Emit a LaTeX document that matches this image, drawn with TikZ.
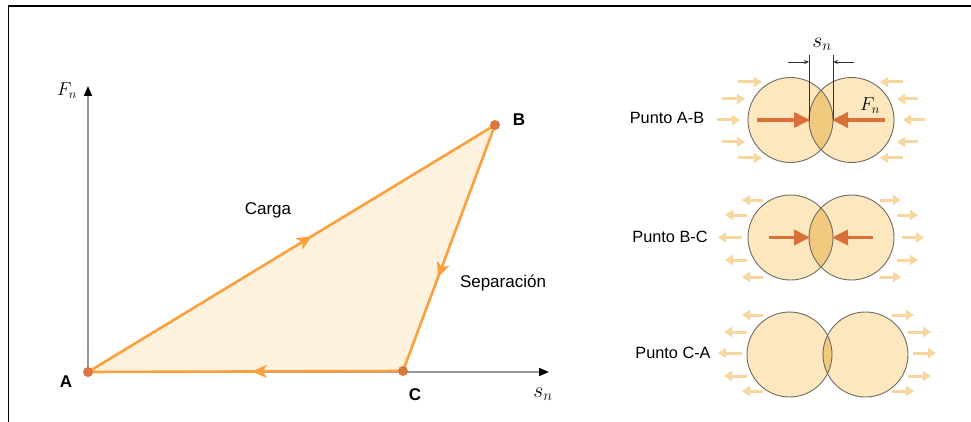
\documentclass[tikz,border=0pt]{standalone}
\usepackage{fontspec}
\setmainfont{Liberation Sans}
\usetikzlibrary{arrows.meta,decorations.markings}
\definecolor{trifill}{HTML}{FEF1DE}
\definecolor{edgec}{HTML}{FBA03C}
\definecolor{dotc}{HTML}{D9773F}
\definecolor{circfill}{HTML}{FDE7BE}
\definecolor{lensfill}{HTML}{F1C97E}
\definecolor{bigarr}{HTML}{D9703A}
\definecolor{smallarr}{HTML}{F8D6A0}
\definecolor{axisc}{HTML}{999999}
\definecolor{circedge}{HTML}{6E6A60}
\tikzset{
  edge/.style={draw=edgec,line width=2.6pt,line cap=round,line join=round},
  midarrow/.style={postaction={decorate},decoration={markings,
     mark=at position #1 with {\arrow{Stealth[length=15pt,width=13pt,inset=4pt,edgec]}}}},
  axisline/.style={draw=axisc,line width=1.4pt,-{Triangle[length=10pt,width=8pt,black]}},
  dot/.style={circle,fill=dotc,inner sep=0pt,minimum size=10pt},
  lab/.style={font=\fontsize{17}{17}\selectfont},
  blab/.style={font=\fontsize{17}{17}\selectfont\bfseries},
  mlab/.style={font=\fontsize{17.28}{17.28}\selectfont,scale=1.08},
  slab/.style={font=\fontsize{17.28}{17.28}\selectfont,scale=1.25},
  plab/.style={font=\fontsize{16.3}{16.3}\selectfont},
  circ/.style={draw=circedge,line width=0.9pt},
  bigarrow/.style={draw=bigarr,line width=3.6pt,-{Triangle[length=16pt,width=15pt,bigarr]}},
  smallarrow/.style={draw=smallarr,line width=3pt,-{Triangle[length=8pt,width=10pt,smallarr]}},
  dimline/.style={draw=black!80,line width=0.7pt},
  dimarrow/.style={draw=black!80,line width=0.7pt,-{Stealth[length=5pt,width=4pt]}}
}
\begin{document}
\begin{tikzpicture}[x=1pt,y=-1pt]
\useasboundingbox (0,0) rectangle (971,422);
% frame
\coordinate (f1) at (8.5,422);
\coordinate (f2) at (8.5,6);
\coordinate (f3) at (971,6);
\draw[line width=1.8pt] (f1) -- (f2) -- (f3);

% ---------- left plot ----------
\coordinate (O) at (88,372);
\coordinate (yend) at (88,86);
\coordinate (xend) at (549,372);
\coordinate (pA) at (88,372);
\coordinate (pB) at (495,125);
\coordinate (pC) at (403,371);
\fill[trifill] (pA) -- (pB) -- (pC) -- cycle;
\draw[axisline] (O) -- (yend);
\draw[axisline] (O) -- (xend);
\draw[edge,midarrow=0.55] (pA) -- (pB);
\draw[edge,midarrow=0.62] (pB) -- (pC);
\draw[edge,midarrow=0.48] (pC) -- (pA);
\node[dot] (A) at (pA) {};
\node[dot] (B) at (pB) {};
\node[dot] (C) at (pC) {};
\node[blab] (lA) at (66,382) {A};
\node[blab] (lB) at (519,120) {B};
\node[blab] (lC) at (415,395) {C};
\node[mlab] (lF) at (67,91) {$F_n$};
\node[slab] (ls) at (543,394) {$s_n$};
\node[lab] (carga) at (268,210) {Carga};
\node[lab] (sep) at (503,283) {Separación};

% ---------- right side ----------
\node[plab] (r1) at (667,118) {Punto A-B};
\node[plab] (r2) at (670,237) {Punto B-C};
\node[plab] (r3) at (673,353) {Punto C-A};

% row 1
\fill[circfill] (790.5,120) circle (42.5);
\fill[circfill] (851.5,120) circle (42.5);
\begin{scope}
\clip (790.5,120) circle (42.5);
\fill[lensfill] (851.5,120) circle (42.5);
\end{scope}
\draw[circ] (790.5,120) circle (42.5);
\draw[circ] (851.5,120) circle (42.5);
% row 2
\fill[circfill] (790.5,237.5) circle (42.5);
\fill[circfill] (851.5,237.5) circle (42.5);
\begin{scope}
\clip (790.5,237.5) circle (42.5);
\fill[lensfill] (851.5,237.5) circle (42.5);
\end{scope}
\draw[circ] (790.5,237.5) circle (42.5);
\draw[circ] (851.5,237.5) circle (42.5);
% row 3
\fill[circfill] (789.5,354.5) circle (42.5);
\fill[circfill] (865.5,354.5) circle (42.5);
\begin{scope}
\clip (789.5,354.5) circle (42.5);
\fill[lensfill] (865.5,354.5) circle (42.5);
\end{scope}
\draw[circ] (789.5,354.5) circle (42.5);
\draw[circ] (865.5,354.5) circle (42.5);

% dimension s_n
\coordinate (d1t) at (809,55);
\coordinate (d1b) at (809,121);
\coordinate (d2t) at (833,55);
\coordinate (d2b) at (833,121);
\coordinate (dl) at (788,62);
\coordinate (dr) at (854,62);
\coordinate (dla) at (809,62);
\coordinate (dra) at (833,62);
\draw[dimline] (d1t) -- (d1b);
\draw[dimline] (d2t) -- (d2b);
\draw[dimarrow] (dl) -- (dla);
\draw[dimarrow] (dr) -- (dra);
\node[slab] (dsn) at (822,44) {$s_n$};
\node[mlab] (fn2) at (870,106) {$F_n$};

% big arrows
\coordinate (b1s) at (757,120); \coordinate (b1e) at (810,120);
\coordinate (b2s) at (885,120); \coordinate (b2e) at (832,120);
\coordinate (b3s) at (769,237.5); \coordinate (b3e) at (810,237.5);
\coordinate (b4s) at (873,237.5); \coordinate (b4e) at (832,237.5);
\draw[bigarrow] (b1s) -- (b1e);
\draw[bigarrow] (b2s) -- (b2e);
\draw[bigarrow] (b3s) -- (b3e);
\draw[bigarrow] (b4s) -- (b4e);

% small arrows row 1 (inward)
\foreach \a/\b/\y in {738/762/82, 722/745/99, 717/740/120, 722/745/142, 738/762/158}{
  \draw[smallarrow] (\a,\y) -- (\b,\y);}
\foreach \a/\b/\y in {903/880/82, 918/897/99, 925/903/120, 918/897/142, 903/880/158}{
  \draw[smallarrow] (\a,\y) -- (\b,\y);}
% small arrows row 2 (outward)
\foreach \a/\b/\y in {763/742/200, 747/725/215, 742/718/237.5, 747/725/260, 763/742/277}{
  \draw[smallarrow] (\a,\y) -- (\b,\y);}
\foreach \a/\b/\y in {880/901/200, 897/918/215, 902/924/237.5, 897/918/260, 880/901/277}{
  \draw[smallarrow] (\a,\y) -- (\b,\y);}
% small arrows row 3 (outward)
\foreach \a/\b/\y in {763/742/315, 747/724/332, 742/718/353, 747/724/376, 763/742/391}{
  \draw[smallarrow] (\a,\y) -- (\b,\y);}
\foreach \a/\b/\y in {892/914/315, 908/931/332, 913/936/353, 908/931/376, 892/914/391}{
  \draw[smallarrow] (\a,\y) -- (\b,\y);}
\end{tikzpicture}
\end{document}
